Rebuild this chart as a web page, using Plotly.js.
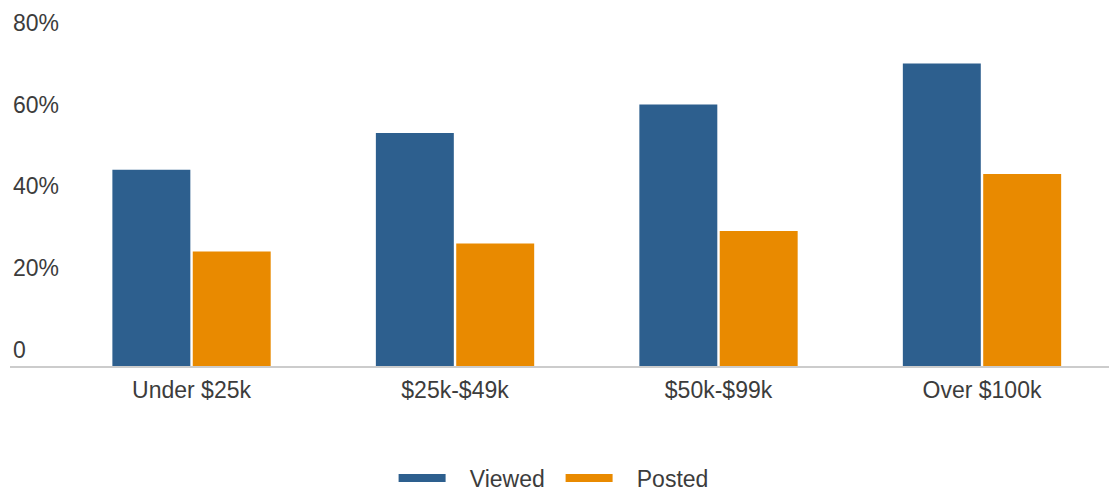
<!DOCTYPE html>
<html>
<head>
<meta charset="utf-8">
<script src="https://cdn.plot.ly/plotly-3.0.1.min.js"></script>
<style>html,body{margin:0;padding:0;background:#fff;}#chart{width:1109px;height:495px;}</style>
</head>
<body>
<div id="chart"></div>
<script>
const categories = ["Under $25k", "$25k-$49k", "$50k-$99k", "Over $100k"];
const viewed = [48, 57, 64, 74];
const posted = [28, 30, 33, 47];
const seriesNames = ["Viewed", "Posted"];
const yTickVals = [0, 20, 40, 60, 80];
const yTickText = ["0", "20%", "40%", "60%", "80%"];

const blue = "#2D5F8E";
const orange = "#E98A00";
const font = "Liberation Sans, Arial, Helvetica, sans-serif";
const textColor = "#3c3c3c";

const data = [
  {type: "bar", name: seriesNames[0], x: categories, y: viewed, marker: {color: blue}, showlegend: false},
  {type: "bar", name: seriesNames[1], x: categories, y: posted, marker: {color: orange}, showlegend: false},
  {type: "scatter", mode: "lines", name: "&nbsp;&nbsp;&nbsp;" + seriesNames[0], x: [null], y: [null], line: {color: blue, width: 8}},
  {type: "scatter", mode: "lines", name: "&nbsp;&nbsp;&nbsp;" + seriesNames[1], x: [null], y: [null], line: {color: orange, width: 8}}
];

const layout = {
  width: 1109, height: 495,
  margin: {l: 10, r: 0, t: 22, b: 129, autoexpand: false},
  paper_bgcolor: "#fff", plot_bgcolor: "#fff",
  font: {family: font, size: 23, color: textColor},
  barmode: "group", bargap: 0.39, bargroupgap: 0.03,
  xaxis: {
    type: "category", range: [-0.689, 3.482],
    showline: true, linecolor: "#cccccc", linewidth: 1.5,
    showgrid: false, zeroline: false, ticks: "", ticklabelstandoff: 3,
    tickfont: {family: font, size: 23, color: textColor}, fixedrange: true
  },
  yaxis: {
    range: [0, 84.16], tickvals: yTickVals, ticktext: yTickText,
    showgrid: false, zeroline: false, showline: false, ticks: "",
    ticklabelposition: "inside top", ticklabeloverflow: "allow",
    tickfont: {family: font, size: 23, color: textColor}, fixedrange: true
  },
  legend: {
    orientation: "h", x: 0.501, xanchor: "center",
    yref: "container", y: 0.0343, yanchor: "middle",
    font: {family: font, size: 23, color: textColor}, itemwidth: 47,
    entrywidth: 105, entrywidthmode: "pixels"
  },
  showlegend: true
};

Plotly.newPlot("chart", data, layout, {displayModeBar: false, staticPlot: true});
</script>
</body>
</html>
